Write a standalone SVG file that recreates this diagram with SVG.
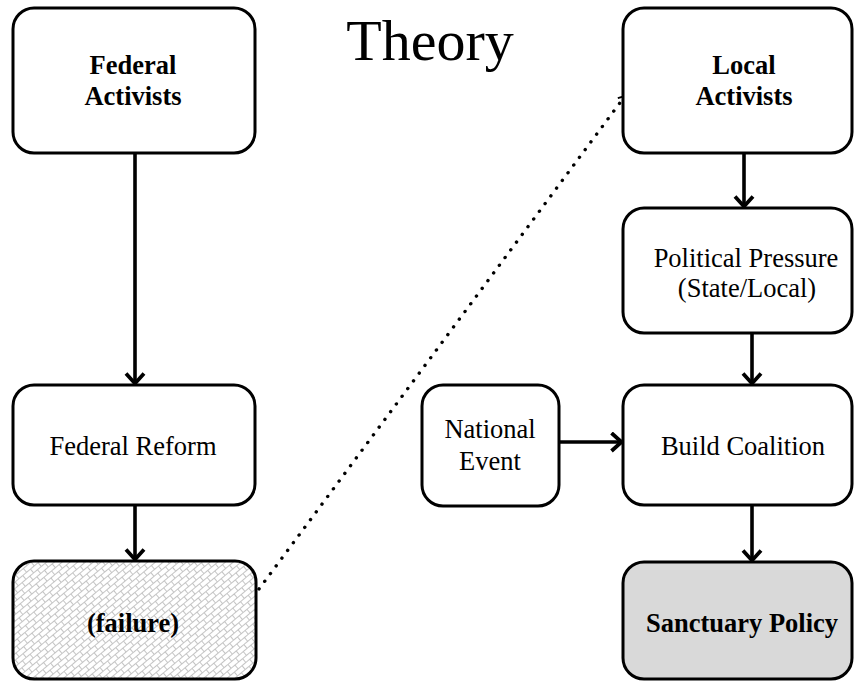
<svg xmlns="http://www.w3.org/2000/svg" width="855" height="682" viewBox="0 0 855 682">
  <style>
    .box { fill: #ffffff; stroke: #000000; stroke-width: 3; }
    .lbl { font-family: "Liberation Serif", "Times New Roman", serif; font-size: 26.5px; fill: #000000; text-anchor: middle; }
    .b { font-weight: bold; }
    .title { font-family: "Liberation Serif", "Times New Roman", serif; font-size: 58px; fill: #000000; text-anchor: middle; }
    .flow { stroke: #000000; stroke-width: 3.6; fill: none; marker-end: url(#chev); }
    .dots { stroke: #000000; stroke-width: 3.4; fill: none; stroke-linecap: round; stroke-dasharray: 0.1 9.5; marker-end: url(#chevSmall); }
  </style>
  <defs>
    <marker id="chev" markerUnits="userSpaceOnUse" markerWidth="26" markerHeight="26" refX="12.5" refY="10.5" orient="auto">
      <path d="M2,1.5 L12,10.5 L2,19.5" fill="none" stroke="#000000" stroke-width="3.8" stroke-linejoin="miter"/>
    </marker>
    <marker id="chevSmall" markerUnits="userSpaceOnUse" markerWidth="14" markerHeight="14" refX="8" refY="6" orient="auto">
      <path d="M2,1.5 L8,6 L2,10.5" fill="none" stroke="#000000" stroke-width="1.9"/>
    </marker>
    <!-- light diagonal brick weave used for the failed outcome -->
    <pattern id="weave" patternUnits="userSpaceOnUse" width="10" height="10" patternTransform="rotate(-40)">
      <rect width="10" height="10" fill="#ffffff"/>
      <path d="M0,0.5 H10 M0,5.5 H10 M2.5,0.5 V5.5 M7.5,5.5 V10.5" stroke="#c4c4c4" stroke-width="1" fill="none"/>
    </pattern>
  </defs>

  <text class="title" x="430" y="60">Theory</text>

  <g id="connectors">
    <line class="flow" x1="135" y1="153" x2="135" y2="384"/>
    <line class="flow" x1="135" y1="505" x2="135" y2="560"/>
    <line class="flow" x1="744" y1="153" x2="744" y2="207"/>
    <line class="flow" x1="752" y1="333" x2="752" y2="384"/>
    <line class="flow" x1="752" y1="505" x2="752" y2="561"/>
    <line class="flow" x1="559" y1="442" x2="622" y2="442"/>
    <line class="dots" x1="259" y1="589" x2="625" y2="96"/>
  </g>

  <g id="federal-activists">
    <rect class="box" x="13" y="8" width="242" height="145" rx="21"/>
    <text class="lbl b" x="133" y="74">Federal</text>
    <text class="lbl b" x="133" y="105">Activists</text>
  </g>

  <g id="federal-reform">
    <rect class="box" x="13" y="385" width="242" height="120" rx="21"/>
    <text class="lbl" x="133" y="455">Federal Reform</text>
  </g>

  <g id="failure">
    <rect class="box" x="13" y="561" width="243" height="118" rx="21" style="fill:url(#weave)"/>
    <text class="lbl b" x="133" y="632">(failure)</text>
  </g>

  <g id="local-activists">
    <rect class="box" x="623" y="8" width="229" height="145" rx="21"/>
    <text class="lbl b" x="744" y="74">Local</text>
    <text class="lbl b" x="744" y="105">Activists</text>
  </g>

  <g id="political-pressure">
    <rect class="box" x="623" y="208" width="229" height="125" rx="21"/>
    <text class="lbl" x="746" y="267">Political Pressure</text>
    <text class="lbl" x="747" y="297">(State/Local)</text>
  </g>

  <g id="national-event">
    <rect class="box" x="422" y="385" width="137" height="121" rx="21"/>
    <text class="lbl" x="490" y="438">National</text>
    <text class="lbl" x="490" y="470">Event</text>
  </g>

  <g id="build-coalition">
    <rect class="box" x="623" y="385" width="229" height="120" rx="21"/>
    <text class="lbl" x="743" y="455">Build Coalition</text>
  </g>

  <g id="sanctuary-policy">
    <rect class="box" x="623" y="562" width="229" height="117" rx="21" style="fill:#d9d9d9"/>
    <text class="lbl b" x="742" y="632">Sanctuary Policy</text>
  </g>
</svg>
